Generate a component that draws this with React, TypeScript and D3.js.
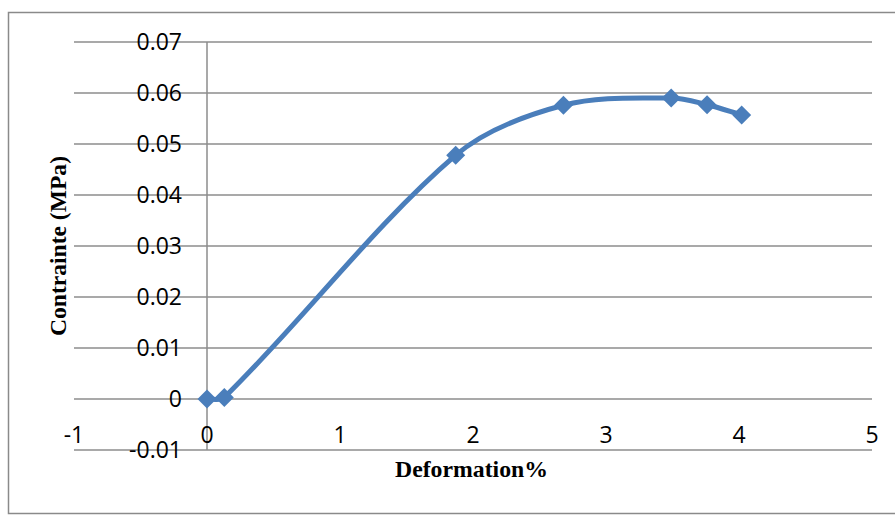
import React from "react";
import * as d3 from "d3";

const deformation = [0, 0.13, 1.87, 2.68, 3.49, 3.76, 4.02];
const contrainte = [0, 0.0003, 0.0478, 0.0576, 0.059, 0.0577, 0.0557];
const xTicks = [-1, 0, 1, 2, 3, 4, 5];
const yTicks = [-0.01, 0, 0.01, 0.02, 0.03, 0.04, 0.05, 0.06, 0.07];
const xTitle = "Deformation%";
const yTitle = "Contrainte (MPa)";

// Excel-like smoothing: tangent scaled by neighbouring segment lengths
function smoothPath(pts: [number, number][]): string {
  const p = d3.path();
  const n = pts.length;
  const dist = (a: [number, number], b: [number, number]) => Math.hypot(b[0] - a[0], b[1] - a[1]);
  const f = 1 / 3;
  const outC: [number, number][] = [];
  const inC: [number, number][] = [];
  for (let i = 0; i < n; i++) {
    const P = pts[i];
    if (i === 0) {
      const N = pts[1];
      outC[i] = [P[0] + (N[0] - P[0]) * f, P[1] + (N[1] - P[1]) * f];
      inC[i] = P;
      continue;
    }
    if (i === n - 1) {
      const A = pts[i - 1];
      inC[i] = [P[0] - (P[0] - A[0]) * f, P[1] - (P[1] - A[1]) * f];
      outC[i] = P;
      continue;
    }
    const A = pts[i - 1], B = pts[i + 1];
    const l1 = dist(A, P), l2 = dist(P, B);
    const T = [B[0] - A[0], B[1] - A[1]];
    const s = l1 + l2;
    outC[i] = [P[0] + T[0] * f * (l2 / s), P[1] + T[1] * f * (l2 / s)];
    inC[i] = [P[0] - T[0] * f * (l1 / s), P[1] - T[1] * f * (l1 / s)];
  }
  p.moveTo(pts[0][0], pts[0][1]);
  for (let i = 1; i < n; i++) {
    p.bezierCurveTo(outC[i - 1][0], outC[i - 1][1], inC[i][0], inC[i][1], pts[i][0], pts[i][1]);
  }
  return p.toString();
}

export default function App() {
  const W = 895, H = 516;
  const x = d3.scaleLinear().domain([-1, 5]).range([74, 872]);
  const y = d3.scaleLinear().domain([-0.01, 0.07]).range([450, 42]);
  const pts: [number, number][] = deformation.map((d, i) => [x(d), y(contrainte[i])]);
  const line = smoothPath(pts);
  const grid = "#8c8c8c";
  const blue = "#4a7ebb";
  const tickFont = "'Open Sans', 'Liberation Sans', sans-serif";
  const serif = "'Liberation Serif', 'Times New Roman', serif";
  const fmtY = (v: number) => (v === 0 ? "0" : v.toFixed(2));
  const diamond = (cx: number, cy: number) => {
    const r = 9.5;
    return `M${cx},${cy - r}L${cx + r},${cy}L${cx},${cy + r}L${cx - r},${cy}Z`;
  };
  return (
    <svg width={W} height={H} style={{ position: "absolute", left: 0, top: 0, background: "#fff" }}>
      <rect x={8.5} y={12.5} width={910} height={501} fill="#fff" stroke="#8a8a8a" strokeWidth={1.5} />
      {yTicks.map((t) => (
        <line key={"g" + t} x1={x(-1)} x2={x(5)} y1={y(t)} y2={y(t)} stroke={grid} strokeWidth={1.5} />
      ))}
      <line x1={x(0)} x2={x(0)} y1={y(0.07)} y2={y(-0.01)} stroke={grid} strokeWidth={1.5} />
      {yTicks.map((t) => (
        <text key={"y" + t} x={182} y={y(t)} dy="0.36em" textAnchor="end" fontFamily={tickFont} fontSize={23} fill="#000">
          {fmtY(t)}
        </text>
      ))}
      {xTicks.map((t) => (
        <text key={"x" + t} x={x(t)} y={435} dy="0.36em" textAnchor="middle" fontFamily={tickFont} fontSize={23} fill="#000">
          {t}
        </text>
      ))}
      <path d={line} fill="none" stroke={blue} strokeWidth={5} />
      {pts.map((p, i) => (
        <path key={"m" + i} d={diamond(p[0], p[1])} fill={blue} />
      ))}
      <text x={395} y={469} dy="0.34em" textAnchor="start" textLength={153} lengthAdjust="spacingAndGlyphs" fontFamily={serif} fontWeight="bold" fontSize={23} fill="#000">
        {xTitle}
      </text>
      <text transform="translate(58,336) rotate(-90)" dy="0.34em" textAnchor="start" textLength={180} lengthAdjust="spacingAndGlyphs" fontFamily={serif} fontWeight="bold" fontSize={23} fill="#000">
        {yTitle}
      </text>
    </svg>
  );
}
